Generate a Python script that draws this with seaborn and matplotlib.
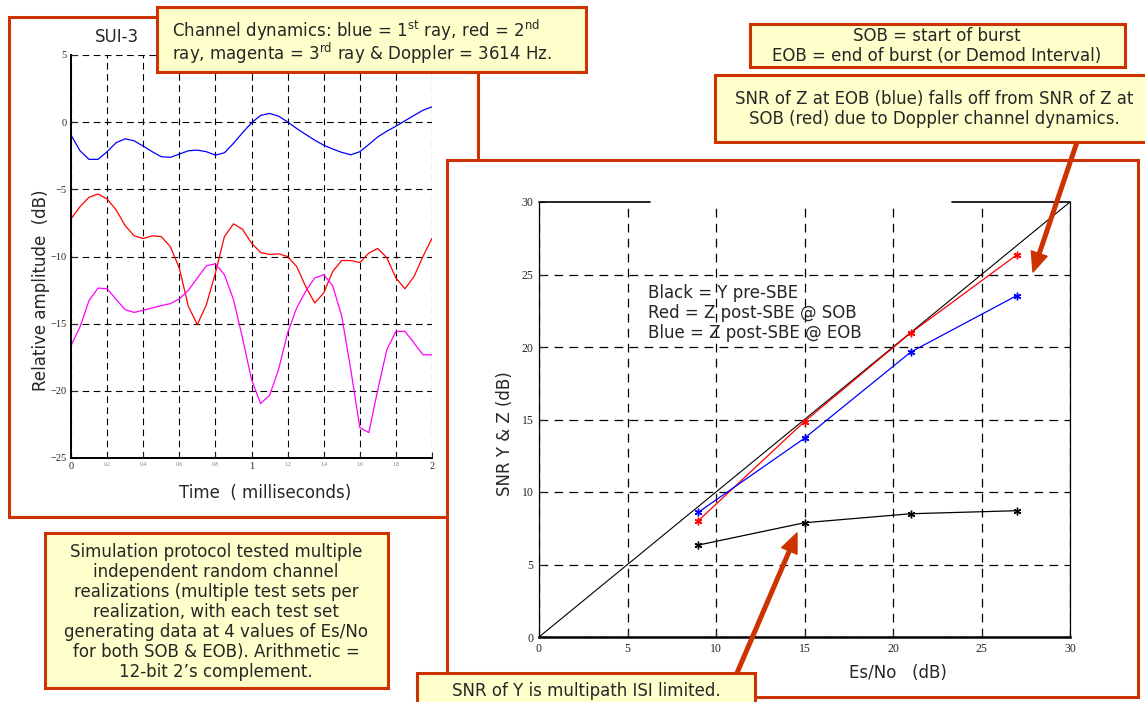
import numpy as np
import seaborn as sns
import matplotlib.pyplot as plt
from matplotlib.patches import Rectangle, FancyArrowPatch

# SUI-3 channel taps, relative amplitude (dB) over time (ms)
time_ms = [0.00, 0.05, 0.10, 0.15, 0.20, 0.25, 0.30, 0.35, 0.40, 0.45,
           0.50, 0.55, 0.60, 0.65, 0.70, 0.75, 0.80, 0.85, 0.90, 0.95,
           1.00, 1.05, 1.10, 1.15, 1.20, 1.25, 1.30, 1.35, 1.40, 1.45,
           1.50, 1.55, 1.60, 1.65, 1.70, 1.75, 1.80, 1.85, 1.90, 1.95, 2.00]
ray1_db = [-0.96, -2.13, -2.77, -2.77, -2.2, -1.53, -1.24, -1.39, -1.78, -2.2,
           -2.57, -2.62, -2.38, -2.13, -2.08, -2.2, -2.45, -2.28, -1.58, -0.79,
           -0.05, 0.5, 0.65, 0.45, 0.02, -0.47, -0.91, -1.34, -1.71, -2.0,
           -2.25, -2.43, -2.2, -1.66, -1.09, -0.67, -0.3, 0.1, 0.5, 0.89, 1.14]
ray2_db = [-7.2, -6.29, -5.59, -5.35, -5.72, -6.53, -7.7, -8.46, -8.66, -8.46,
           -8.52, -9.26, -10.86, -13.71, -15.07, -13.59, -11.23, -8.52, -7.57, -7.97,
           -9.0, -9.7, -9.85, -9.8, -10.0, -10.74, -12.23, -13.46, -12.72, -11.11,
           -10.3, -10.3, -10.45, -9.75, -9.4, -10.1, -11.6, -12.4, -11.5, -10.0, -8.64]
ray3_db = [-16.63, -15.24, -13.27, -12.35, -12.4, -13.2, -13.96, -14.16, -14.0, -13.83,
           -13.66, -13.51, -13.16, -12.52, -11.6, -10.69, -10.54, -11.36, -13.2, -16.06,
           -19.15, -20.94, -20.34, -18.41, -15.69, -13.83, -12.6, -11.6, -11.36, -12.18,
           -14.45, -18.41, -22.74, -23.11, -19.9, -16.93, -15.57, -15.57, -16.43, -17.32, -17.32]
time_ticks = [0, 0.2, 0.4, 0.6, 0.8, 1, 1.2, 1.4, 1.6, 1.8, 2]
time_labels = ['0', '0.2', '0.4', '0.6', '0.8', '1', '1.2', '1.4', '1.6', '1.8', '2']
amp_ticks = [-25, -20, -15, -10, -5, 0, 5]

# SNR of Y and Z vs Es/No
es_no_db = [9, 15, 21, 27]
snr_y_pre = [6.34, 7.88, 8.5, 8.71]
snr_z_sob = [8.02, 14.86, 20.97, 26.36]
snr_z_eob = [8.6, 13.71, 19.65, 23.55]
ideal_line = [0, 30]
snr_ticks = [0, 5, 10, 15, 20, 25, 30]

W, H = 1145, 702
BORDER = '#CC3300'
FILL = '#FFFFCC'
SERIF = 'Liberation Serif'
FS = 12

sns.set_style('white')
plt.rcParams['font.family'] = ['DejaVu Sans']

fig = plt.figure(figsize=(W / 100, H / 100), dpi=100)


def fx(x):
    return x / W


def fy(y):
    return 1 - y / H


def box(x0, y0, x1, y1, face, z):
    r = Rectangle((fx(x0), fy(y1)), (x1 - x0) / W, (y1 - y0) / H,
                  transform=fig.transFigure, facecolor=face, edgecolor=BORDER,
                  linewidth=2.2, zorder=z)
    fig.add_artist(r)


def arrow(x0, y0, x1, y1):
    a = FancyArrowPatch((fx(x0), fy(y0)), (fx(x1), fy(y1)), transform=fig.transFigure,
                        arrowstyle='simple,head_length=14,head_width=12,tail_width=2.6',
                        mutation_scale=1, color=BORDER, shrinkA=0, shrinkB=0, zorder=9)
    fig.add_artist(a)


# left panel: channel taps
box(9, 17, 478, 517, 'white', 1)
ax1 = fig.add_axes([fx(71), fy(458), 361 / W, 403 / H], zorder=2)
sns.lineplot(x=time_ms, y=ray1_db, color='#0000FF', lw=0.9, ax=ax1)
sns.lineplot(x=time_ms, y=ray2_db, color='#FF0000', lw=0.9, ax=ax1)
sns.lineplot(x=time_ms, y=ray3_db, color='#FF00FF', lw=0.9, ax=ax1)
ax1.set_xlim(0, 2)
ax1.set_ylim(-25, 5)
ax1.set_xticks(time_ticks)
ax1.set_xticklabels(time_labels)
ax1.set_yticks(amp_ticks)
ax1.grid(True, color='black', ls=(0, (6, 4)), lw=0.8)
ax1.tick_params(direction='in', length=4, bottom=True, left=True, labelsize=7.5, pad=3)
for s in ['top', 'right']:
    ax1.spines[s].set_visible(False)
for s in ['left', 'bottom']:
    ax1.spines[s].set_linewidth(1.4)
    ax1.spines[s].set_color('black')
for i, lbl in enumerate(ax1.get_xticklabels()):
    lbl.set_family(SERIF)
    if time_labels[i] not in ('0', '1', '2'):
        lbl.set_fontsize(4)
        lbl.set_color('#777777')
for lbl in ax1.get_yticklabels():
    lbl.set_family(SERIF)
ax1.set_xlabel('Time  ( milliseconds)', fontsize=FS)
ax1.set_ylabel('Relative amplitude  (dB)', fontsize=FS)
ax1.xaxis.set_label_coords((265 - 71) / 361, (458 - 484) / 403)
ax1.yaxis.set_label_coords((50 - 71) / 361, (458 - 290) / 403)
fig.text(fx(117), fy(37), 'SUI-3', ha='center', va='center', fontsize=FS, zorder=3)

box(157, 7, 586, 72, FILL, 3)
fig.text(fx(172), fy(36.5), 'Channel dynamics: blue = 1$^{\\rm st}$ ray, red = 2$^{\\rm nd}$',
         ha='left', va='baseline', fontsize=FS, zorder=10)
fig.text(fx(172), fy(59.5), 'ray, magenta = 3$^{\\rm rd}$ ray & Doppler = 3614 Hz.',
         ha='left', va='baseline', fontsize=FS, zorder=10)

# right panel: SNR curves
box(447, 160, 1138, 697, 'white', 4)
ax2 = fig.add_axes([fx(539), fy(637), 531 / W, 435 / H], zorder=5)
sns.lineplot(x=ideal_line, y=ideal_line, color='black', lw=0.8, ax=ax2)
for vals, col in [(snr_y_pre, 'black'), (snr_z_sob, '#FF0000'), (snr_z_eob, '#0000FF')]:
    sns.lineplot(x=es_no_db, y=vals, color=col, lw=0.9, marker=(6, 2, 0), markersize=5.5,
                 markeredgecolor=col, markeredgewidth=1.0, ax=ax2)
ax2.set_xlim(0, 30)
ax2.set_ylim(0, 30)
ax2.set_xticks(snr_ticks)
ax2.set_yticks(snr_ticks)
ax2.grid(True, color='black', ls=(0, (7, 5)), lw=0.9)
ax2.yaxis.get_gridlines()[-1].set_visible(False)
ax2.tick_params(direction='in', length=4, bottom=True, left=True, labelsize=8.5, pad=4)
for lbl in ax2.get_xticklabels() + ax2.get_yticklabels():
    lbl.set_family(SERIF)
ax2.spines['top'].set_visible(False)
ax2.spines['bottom'].set_linewidth(1.8)
for s in ['left', 'right']:
    ax2.spines[s].set_linewidth(0.9)
for s in ['left', 'right', 'bottom']:
    ax2.spines[s].set_color('black')
ax2.plot([0, 0.209], [1, 1], transform=ax2.transAxes, color='black', lw=1.2, clip_on=False)
ax2.plot([0.778, 1], [1, 1], transform=ax2.transAxes, color='black', lw=1.2, clip_on=False)
ax2.set_xlabel('Es/No   (dB)', fontsize=FS)
ax2.set_ylabel('SNR Y & Z (dB)', fontsize=FS)
ax2.xaxis.set_label_coords((898 - 539) / 531, (637 - 664) / 435)
ax2.yaxis.set_label_coords((514 - 539) / 531, (637 - 434) / 435)

legend_lines = ['Black = Y pre-SBE', 'Red = Z post-SBE @ SOB', 'Blue = Z post-SBE @ EOB']
for i, t in enumerate(legend_lines):
    fig.text(fx(648), fy(293 + 20 * i), t, ha='left', va='center', fontsize=FS, zorder=10)

# annotation boxes
box(750, 24, 1125, 67, FILL, 6)
fig.text(fx(937), fy(46), 'SOB = start of burst\nEOB = end of burst (or Demod Interval)',
         ha='center', va='center', fontsize=FS, linespacing=1.17, zorder=10)

box(715, 75, 1150, 142, FILL, 6)
fig.text(fx(934), fy(109), 'SNR of Z at EOB (blue) falls off from SNR of Z at\n'
         'SOB (red) due to Doppler channel dynamics.',
         ha='center', va='center', fontsize=FS, linespacing=1.17, zorder=10)
arrow(1077, 142, 1033, 272)

box(45, 533, 388, 688, FILL, 6)
fig.text(fx(216), fy(612),
         'Simulation protocol tested multiple\nindependent random channel\n'
         'realizations (multiple test sets per\nrealization, with each test set\n'
         'generating data at 4 values of Es/No\nfor both SOB & EOB). Arithmetic =\n'
         '12-bit 2\u2019s complement.',
         ha='center', va='center', fontsize=FS, linespacing=1.14, zorder=10)

box(417, 673, 755, 712, FILL, 6)
fig.text(fx(586), fy(691), 'SNR of Y is multipath ISI limited.',
         ha='center', va='center', fontsize=FS, zorder=10)
arrow(737, 673, 797, 533)

fig.savefig('out.png', dpi=100)
